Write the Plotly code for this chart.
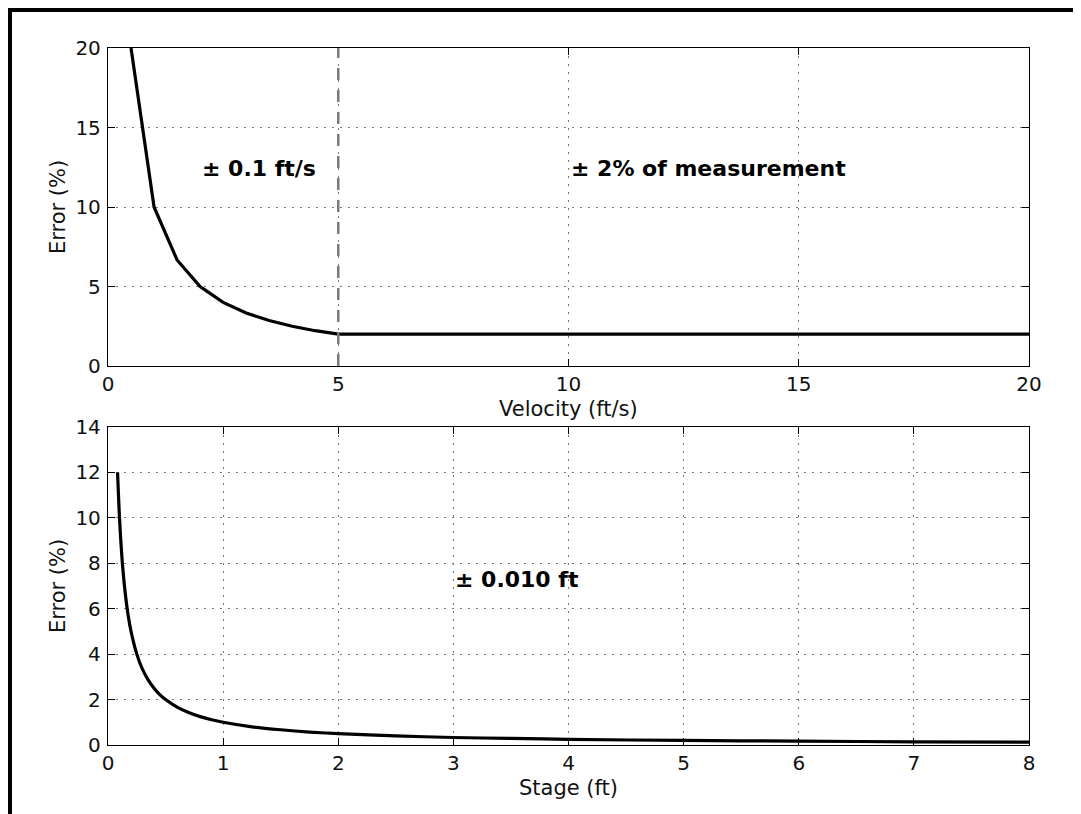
import plotly.graph_objects as go
from plotly.subplots import make_subplots

# Top panel: velocity error
velocity = [0.5, 1.0, 1.5, 2.0, 2.5, 3.0, 3.5, 4.0, 4.5, 5.0, 20.0]
velocity_error = [20.0, 10.0, 6.67, 5.0, 4.0, 3.33, 2.86, 2.5, 2.22, 2.0, 2.0]
vel_threshold = 5.0

# Bottom panel: stage error
stage = [0.083, 0.1, 0.125, 0.15, 0.175, 0.2, 0.25, 0.3, 0.35, 0.4, 0.45, 0.5, 0.6, 0.7,
         0.8, 0.9, 1.0, 1.25, 1.5, 1.75, 2.0, 2.5, 3.0, 3.5, 4.0, 5.0, 6.0, 7.0, 8.0]
stage_error = [12.0, 10.0, 8.0, 6.67, 5.71, 5.0, 4.0, 3.33, 2.86, 2.5, 2.22, 2.0, 1.67, 1.43,
               1.25, 1.11, 1.0, 0.8, 0.67, 0.57, 0.5, 0.4, 0.33, 0.29, 0.25, 0.2, 0.17, 0.14, 0.125]

top_xticks = [0, 5, 10, 15, 20]
top_yticks = [0, 5, 10, 15, 20]
bot_xticks = [0, 1, 2, 3, 4, 5, 6, 7, 8]
bot_yticks = [0, 2, 4, 6, 8, 10, 12, 14]

OFF = 8  # page body margin
W, H = 1081 - OFF, 814 - OFF
L, R, T, B = 108 - OFF, 1029 - OFF, 48 - OFF, 745 - OFF
TOP_BOTTOM = 366 - OFF
BOT_TOP = 427 - OFF
ph = B - T

fig = make_subplots(rows=2, cols=1)
fig.add_trace(go.Scatter(x=velocity, y=velocity_error, mode="lines",
                         line=dict(color="black", width=3.2), showlegend=False), row=1, col=1)
fig.add_trace(go.Scatter(x=stage, y=stage_error, mode="lines",
                         line=dict(color="black", width=3.2, shape="spline", smoothing=0.8),
                         showlegend=False), row=2, col=1)

tickfont = dict(family="DejaVu Sans", size=20, color="#111111")
font = dict(family="DejaVu Sans", size=21, color="#111111")
axis_common = dict(showline=True, linecolor="black", linewidth=1.3, mirror="ticks",
                   ticks="inside", ticklen=7, tickcolor="black", tickwidth=1,
                   showgrid=True, gridcolor="#777777", griddash="2px,6px", gridwidth=1,
                   zeroline=False, tickfont=tickfont)

fig.update_xaxes(**axis_common)
fig.update_yaxes(**axis_common)
fig.update_layout(
    xaxis=dict(domain=[0, 1], range=[0, 20], tickvals=top_xticks),
    yaxis=dict(domain=[(B - TOP_BOTTOM) / ph, 1], range=[0, 20], tickvals=top_yticks,
               ticklabelstandoff=2),
    xaxis2=dict(domain=[0, 1], range=[0, 8], tickvals=bot_xticks),
    yaxis2=dict(domain=[0, (B - BOT_TOP) / ph], range=[0, 14], tickvals=bot_yticks,
                ticklabelstandoff=2),
    width=W, height=H,
    margin=dict(l=L, r=W - R, t=T, b=H - B),
    plot_bgcolor="white", paper_bgcolor="white",
)

fig.add_shape(type="line", xref="x", yref="y", x0=vel_threshold, x1=vel_threshold, y0=0, y1=20,
              line=dict(color="#7a7a7a", width=2.5, dash="12px,10px"))

bold = dict(family="DejaVu Sans", size=22, color="black", weight="bold")
fig.add_annotation(x=2, y=12.4, xref="x", yref="y", text="± 0.1 ft/s", showarrow=False,
                   xanchor="left", yanchor="middle", font=bold)
fig.add_annotation(x=10, y=12.4, xref="x", yref="y", text="± 2% of measurement", showarrow=False,
                   xanchor="left", yanchor="middle", font=bold)
fig.add_annotation(x=3, y=7.3, xref="x2", yref="y2", text="± 0.010 ft", showarrow=False,
                   xanchor="left", yanchor="middle", font=bold)


def px_x(p):
    return (p - OFF - L) / (R - L)


def px_y(p):
    return (B - (p - OFF)) / ph


# axis titles (placed as annotations for exact positions)
fig.add_annotation(x=0.5, y=px_y(409), xref="paper", yref="paper", text="Velocity (ft/s)",
                   showarrow=False, xanchor="center", yanchor="middle", font=font)
fig.add_annotation(x=0.5, y=px_y(788), xref="paper", yref="paper", text="Stage (ft)",
                   showarrow=False, xanchor="center", yanchor="middle", font=font)
fig.add_annotation(x=px_x(58), y=px_y(207), xref="paper", yref="paper", text="Error (%)",
                   showarrow=False, xanchor="center", yanchor="middle", textangle=-90, font=font)
fig.add_annotation(x=px_x(58), y=px_y(586), xref="paper", yref="paper", text="Error (%)",
                   showarrow=False, xanchor="center", yanchor="middle", textangle=-90, font=font)

# outer frame
fig.add_shape(type="rect", xref="paper", yref="paper",
              x0=px_x(10), x1=px_x(1079), y0=px_y(860), y1=px_y(10),
              line=dict(color="black", width=4), fillcolor="rgba(0,0,0,0)")

fig.write_html("out.html")
